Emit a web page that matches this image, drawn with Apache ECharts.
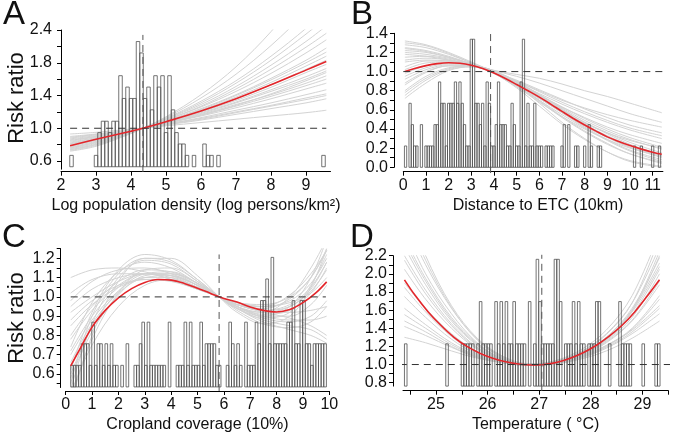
<!DOCTYPE html>
<html><head><meta charset="utf-8">
<script src="https://cdn.jsdelivr.net/npm/echarts@6/dist/echarts.min.js"></script>
<style>html,body{margin:0;padding:0;background:#fff}#c{width:674px;height:434px}</style>
</head><body><div id="c"></div>
<script>
// ---------------- Panel A: Log population density ----------------
const redAx = [2.26, 3, 4, 4.34, 5, 6, 7, 8, 9, 9.58];
const redAy = [0.787, 0.865, 0.964, 1.0, 1.08, 1.21, 1.36, 1.53, 1.71, 1.815];
const greyAx = [2.26, 3, 4, 4.34, 5, 6, 7, 8, 9, 9.58];
const greyA = [
  [0.93, 0.95, 0.99, 1.00, 1.03, 1.07, 1.11, 1.15, 1.19, 1.22],
  [0.90, 0.93, 0.98, 1.00, 1.04, 1.10, 1.17, 1.24, 1.31, 1.36],
  [0.87, 0.91, 0.975, 1.00, 1.05, 1.13, 1.22, 1.31, 1.41, 1.47],
  [0.85, 0.90, 0.972, 1.00, 1.06, 1.15, 1.25, 1.36, 1.48, 1.55],
  [0.83, 0.885, 0.968, 1.00, 1.065, 1.17, 1.29, 1.41, 1.55, 1.64],
  [0.81, 0.87, 0.965, 1.00, 1.07, 1.19, 1.32, 1.47, 1.63, 1.73],
  [0.86, 0.90, 0.97, 1.00, 1.06, 1.16, 1.28, 1.42, 1.58, 1.68],
  [0.79, 0.855, 0.96, 1.00, 1.08, 1.22, 1.38, 1.56, 1.76, 1.88],
  [0.77, 0.84, 0.955, 1.00, 1.09, 1.24, 1.41, 1.61, 1.83, 1.98],
  [0.76, 0.83, 0.953, 1.00, 1.10, 1.26, 1.45, 1.67, 1.92, 2.08],
  [0.75, 0.815, 0.95, 1.00, 1.11, 1.29, 1.51, 1.77, 2.06, 2.25],
  [0.74, 0.80, 0.945, 1.00, 1.12, 1.33, 1.58, 1.88, 2.22, 2.45],
  [0.73, 0.79, 0.94, 1.00, 1.13, 1.37, 1.66, 2.01, 2.42, 2.70],
  [0.72, 0.78, 0.935, 1.00, 1.14, 1.41, 1.75, 2.18, 2.70, 3.05],
  [0.82, 0.88, 0.965, 1.00, 1.07, 1.18, 1.31, 1.45, 1.60, 1.70],
  [0.80, 0.86, 0.96, 1.00, 1.08, 1.21, 1.36, 1.53, 1.72, 1.83],
  [0.88, 0.92, 0.977, 1.00, 1.05, 1.12, 1.20, 1.28, 1.37, 1.42],
  [0.78, 0.85, 0.958, 1.00, 1.085, 1.23, 1.40, 1.59, 1.80, 1.93],
  [0.84, 0.895, 0.97, 1.00, 1.06, 1.16, 1.27, 1.39, 1.52, 1.60],
  [0.76, 0.825, 0.95, 1.00, 1.10, 1.27, 1.48, 1.72, 1.99, 2.16],
  [0.89, 0.925, 0.978, 1.00, 1.045, 1.11, 1.19, 1.27, 1.35, 1.40],
  [0.74, 0.805, 0.948, 1.00, 1.115, 1.31, 1.55, 1.83, 2.15, 2.35],
  [0.81, 0.865, 0.962, 1.00, 1.075, 1.20, 1.34, 1.50, 1.68, 1.78]
];
const histAleft = [2.25, 2.95, 3.05, 3.15, 3.25, 3.35, 3.45, 3.55, 3.65, 3.75, 3.85, 3.95, 4.05, 4.15, 4.25, 4.35, 4.45, 4.55, 4.65, 4.75, 4.85, 4.95, 5.05, 5.15, 5.25, 5.35, 5.45, 5.55, 5.75, 6.05, 6.15, 6.25, 6.45, 9.45];
const histAcount = [1, 1, 3, 4, 4, 3, 4, 4, 8, 6, 7, 6, 6, 11, 10, 6, 7, 5, 8, 7, 8, 3, 8, 5, 3, 2, 2, 1, 1, 2, 1, 1, 1, 1];
const refA = {x: 4.34, y: 1.0};
const xTicksA = [2, 3, 4, 5, 6, 7, 8, 9];
const yTickValsA = [0.6, 1.0, 1.4, 1.8, 2.2];
const yTickLabelsA = ['0.6', '1.0', '1.4', '1.8', '2.4'];

// ---------------- Panel B: Distance to ETC ----------------
const redBx = [0.07, 0.5, 1, 1.5, 2, 2.5, 3, 3.5, 4, 4.5, 5, 5.5, 6, 6.5, 7, 7.5, 8, 8.5, 9, 9.5, 10, 10.5, 11, 11.4];
const redBy = [1.0, 1.032, 1.062, 1.083, 1.092, 1.087, 1.066, 1.032, 0.985, 0.928, 0.865, 0.80, 0.733, 0.66, 0.584, 0.51, 0.442, 0.378, 0.318, 0.27, 0.227, 0.19, 0.158, 0.136];
const greyBx = [0.07, 1, 2, 3, 3.85, 5, 6, 7, 8, 9, 10, 11.4];
const greyB = [
  [1.32, 1.28, 1.20, 1.10, 1.01, 0.86, 0.72, 0.58, 0.45, 0.33, 0.23, 0.12],
  [1.28, 1.25, 1.18, 1.09, 1.00, 0.88, 0.77, 0.66, 0.56, 0.47, 0.39, 0.30],
  [1.22, 1.20, 1.15, 1.08, 1.01, 0.90, 0.80, 0.70, 0.62, 0.55, 0.49, 0.42],
  [1.18, 1.16, 1.12, 1.07, 1.02, 0.97, 0.93, 0.87, 0.80, 0.74, 0.67, 0.57],
  [1.20, 1.18, 1.14, 1.08, 1.02, 0.95, 0.88, 0.80, 0.72, 0.64, 0.56, 0.47],
  [1.12, 1.14, 1.12, 1.06, 1.00, 0.86, 0.72, 0.58, 0.46, 0.36, 0.28, 0.20],
  [1.05, 1.11, 1.11, 1.07, 1.01, 0.85, 0.69, 0.52, 0.37, 0.24, 0.14, 0.05],
  [0.98, 1.06, 1.09, 1.07, 1.01, 0.87, 0.72, 0.57, 0.43, 0.31, 0.21, 0.12],
  [0.92, 1.02, 1.07, 1.06, 1.01, 0.89, 0.76, 0.63, 0.51, 0.40, 0.31, 0.21],
  [0.86, 0.99, 1.06, 1.06, 1.01, 0.86, 0.70, 0.53, 0.38, 0.25, 0.14, 0.04],
  [0.80, 0.95, 1.04, 1.06, 1.02, 0.88, 0.73, 0.57, 0.42, 0.29, 0.18, 0.08],
  [0.75, 0.91, 1.02, 1.05, 1.02, 0.90, 0.76, 0.61, 0.47, 0.35, 0.24, 0.13],
  [0.72, 0.88, 1.01, 1.05, 1.02, 0.86, 0.67, 0.47, 0.30, 0.16, 0.06, 0.00],
  [1.25, 1.22, 1.16, 1.08, 1.00, 0.84, 0.68, 0.53, 0.40, 0.29, 0.20, 0.11],
  [1.02, 1.09, 1.10, 1.07, 1.01, 0.90, 0.79, 0.68, 0.58, 0.49, 0.41, 0.33],
  [0.95, 1.04, 1.08, 1.06, 1.00, 0.83, 0.64, 0.45, 0.29, 0.16, 0.07, 0.01],
  [1.15, 1.16, 1.13, 1.07, 1.00, 0.87, 0.75, 0.63, 0.52, 0.42, 0.34, 0.25],
  [1.30, 1.27, 1.19, 1.09, 1.00, 0.85, 0.70, 0.55, 0.41, 0.28, 0.17, 0.06],
  [1.10, 1.12, 1.11, 1.07, 1.01, 0.88, 0.75, 0.62, 0.49, 0.38, 0.29, 0.19],
  [0.88, 1.00, 1.06, 1.06, 1.01, 0.88, 0.74, 0.60, 0.47, 0.36, 0.26, 0.15],
  [0.78, 0.93, 1.03, 1.06, 1.02, 0.89, 0.75, 0.60, 0.45, 0.32, 0.21, 0.10],
  [1.24, 1.21, 1.15, 1.08, 1.01, 0.91, 0.81, 0.71, 0.61, 0.52, 0.44, 0.36]
];
const histBstart = 0.05, histBwidth = 0.1;
const histBcount = [1,0,3,2,1,1,0,2,0,1, 1,1,1,2,2,4,3,3,1,3, 3,3,4,3,4,3,2,1,1,6, 6,3,3,2,3,1,4,3,1,1,
  2,4,2,2,2,1,1,3,2,1, 1,4,6,1,3,1,1,3,1,1, 1,0,1,1,1,1,0,0,0,1, 2,0,2,0,0,1,1,0,0,1, 0,2,1,0,0,1,1,0,0,0,
  0,0,0,0,0,0,0,0,0,0, 0,1,0,0,1,0,0,0,0,1, 0,0,1,0];
const refB = {x: 3.85, y: 1.0};
const xTicksB = [0, 1, 2, 3, 4, 5, 6, 7, 8, 9, 10, 11];
const yTickValsB = [0, 0.2, 0.4, 0.6, 0.8, 1.0, 1.2, 1.4];

// ---------------- Panel C: Cropland coverage ----------------
const redCx = [0.19, 0.5, 1, 1.5, 2, 2.5, 3, 3.5, 4, 4.5, 5, 5.5, 6, 6.5, 7, 7.5, 8, 8.5, 9, 9.5, 9.9];
const redCy = [0.642, 0.72, 0.843, 0.93, 0.995, 1.043, 1.075, 1.09, 1.087, 1.07, 1.045, 1.018, 0.992, 0.973, 0.948, 0.93, 0.922, 0.934, 0.97, 1.022, 1.078];
const greyCx = [0.19, 1, 2, 3, 4, 5, 5.82, 6.5, 7.5, 8.5, 9.3, 9.9];
const greyC = [
  [0.50, 0.75, 0.95, 1.06, 1.09, 1.05, 1.00, 0.96, 0.93, 0.96, 1.05, 1.18],
  [0.58, 0.82, 1.01, 1.11, 1.12, 1.07, 1.00, 0.95, 0.90, 0.90, 0.96, 1.06],
  [0.70, 0.88, 1.03, 1.10, 1.10, 1.05, 1.00, 0.96, 0.93, 0.95, 1.03, 1.14],
  [0.78, 0.93, 1.06, 1.12, 1.11, 1.06, 1.00, 0.95, 0.91, 0.93, 1.02, 1.15],
  [0.88, 0.98, 1.06, 1.09, 1.08, 1.04, 1.00, 0.97, 0.95, 0.98, 1.07, 1.20],
  [1.10, 1.14, 1.15, 1.13, 1.09, 1.04, 1.00, 0.97, 0.95, 0.97, 1.02, 1.10],
  [0.98, 1.08, 1.14, 1.15, 1.12, 1.06, 1.00, 0.95, 0.90, 0.88, 0.88, 0.90],
  [0.55, 0.90, 1.12, 1.20, 1.18, 1.09, 1.00, 0.93, 0.86, 0.84, 0.87, 0.95],
  [0.45, 0.80, 1.08, 1.20, 1.20, 1.11, 1.00, 0.92, 0.86, 0.90, 1.05, 1.25],
  [0.62, 0.92, 1.14, 1.22, 1.19, 1.09, 1.00, 0.94, 0.92, 1.00, 1.15, 1.30],
  [0.95, 1.04, 1.10, 1.12, 1.10, 1.05, 1.00, 0.96, 0.92, 0.89, 0.85, 0.80],
  [0.85, 0.96, 1.05, 1.09, 1.09, 1.05, 1.00, 0.96, 0.93, 0.92, 0.93, 0.95],
  [0.66, 0.86, 1.02, 1.10, 1.11, 1.06, 1.00, 0.96, 0.95, 1.01, 1.12, 1.24],
  [0.74, 0.97, 1.13, 1.18, 1.15, 1.07, 1.00, 0.94, 0.88, 0.85, 0.83, 0.78],
  [0.52, 0.86, 1.10, 1.19, 1.17, 1.08, 1.00, 0.94, 0.89, 0.92, 1.06, 1.22],
  [0.92, 1.00, 1.08, 1.12, 1.11, 1.06, 1.00, 0.95, 0.92, 0.95, 1.04, 1.18],
  [0.60, 0.84, 1.03, 1.12, 1.13, 1.07, 1.00, 0.95, 0.89, 0.87, 0.90, 0.98],
  [0.80, 0.95, 1.08, 1.14, 1.13, 1.07, 1.00, 0.94, 0.87, 0.83, 0.80, 0.76],
  [0.72, 0.90, 1.05, 1.12, 1.12, 1.06, 1.00, 0.96, 0.94, 0.99, 1.10, 1.24],
  [1.02, 1.09, 1.12, 1.12, 1.09, 1.04, 1.00, 0.97, 0.96, 1.00, 1.10, 1.25],
  [0.48, 0.78, 1.02, 1.14, 1.15, 1.08, 1.00, 0.94, 0.90, 0.95, 1.10, 1.30]
];
const histCstart = 0.19, histCwidth = 0.1;
const histCcount = [1,1,1,1,2,2,2,1,3,1, 2,2,1,2,1,2,1,1,0,1, 0,2,0,0,1,1,2,3,1,3,
  1,1,1,1,1,1,0,3,0,0, 1,1,1,3,1,3,1,1,1,3, 1,2,2,2,2,1,1,0,0,1, 3,2,1,2,1,0,3,1,1,1,
  3,2,4,4,5,2,6,2,2,2, 2,2,3,3,4,2,2,4,4,2, 2,1,2,2,2,2,2];
const refC = {x: 5.82, y: 1.0};
const xTicksC = [0, 1, 2, 3, 4, 5, 6, 7, 8, 9, 10];
const yTickValsC = [0.6, 0.7, 0.8, 0.9, 1.0, 1.1, 1.2];

// ---------------- Panel D: Temperature ----------------
const redDx = [24.39, 24.6, 24.85, 25.1, 25.35, 25.6, 25.85, 26.1, 26.35, 26.6, 26.85, 27.1, 27.35, 27.6, 27.85, 28.1, 28.35, 28.6, 28.85, 29.1, 29.33];
const redDy = [1.934, 1.76, 1.58, 1.43, 1.30, 1.20, 1.125, 1.07, 1.03, 1.005, 0.995, 1.0, 1.025, 1.07, 1.13, 1.21, 1.31, 1.43, 1.58, 1.76, 1.934];
const greyDx = [24.39, 24.8, 25.3, 25.8, 26.3, 26.8, 27.3, 27.8, 28.3, 28.8, 29.33];
const greyD = [
  [2.60, 2.10, 1.62, 1.28, 1.08, 1.00, 1.02, 1.09, 1.21, 1.40, 1.76],
  [2.40, 1.95, 1.52, 1.23, 1.06, 1.00, 1.02, 1.10, 1.25, 1.49, 1.92],
  [2.20, 1.82, 1.45, 1.19, 1.05, 0.99, 1.03, 1.12, 1.30, 1.60, 2.12],
  [1.75, 1.52, 1.28, 1.11, 1.02, 0.99, 1.03, 1.14, 1.34, 1.68, 2.30],
  [1.55, 1.40, 1.22, 1.09, 1.02, 1.00, 1.04, 1.16, 1.38, 1.76, 2.45],
  [1.30, 1.24, 1.15, 1.07, 1.02, 1.00, 1.03, 1.11, 1.28, 1.60, 2.25],
  [2.05, 1.72, 1.40, 1.17, 1.04, 0.99, 1.02, 1.08, 1.19, 1.36, 1.62],
  [1.90, 1.62, 1.34, 1.14, 1.03, 0.99, 1.02, 1.09, 1.21, 1.38, 1.65],
  [2.80, 2.20, 1.65, 1.29, 1.09, 1.01, 1.01, 1.06, 1.15, 1.29, 1.48],
  [2.30, 1.88, 1.48, 1.21, 1.05, 0.99, 1.01, 1.07, 1.18, 1.34, 1.56],
  [1.62, 1.44, 1.24, 1.10, 1.02, 0.99, 1.03, 1.12, 1.29, 1.58, 2.08],
  [2.50, 2.00, 1.56, 1.24, 1.06, 0.99, 1.01, 1.09, 1.24, 1.48, 1.88],
  [1.42, 1.32, 1.19, 1.08, 1.02, 1.00, 1.04, 1.13, 1.33, 1.68, 2.40],
  [2.70, 2.15, 1.63, 1.27, 1.07, 0.99, 1.01, 1.10, 1.28, 1.59, 2.20],
  [1.85, 1.58, 1.31, 1.12, 1.03, 1.00, 1.02, 1.10, 1.26, 1.52, 2.00],
  [2.15, 1.78, 1.43, 1.18, 1.05, 1.00, 1.02, 1.08, 1.20, 1.39, 1.72],
  [1.48, 1.36, 1.20, 1.08, 1.02, 1.00, 1.03, 1.12, 1.30, 1.62, 2.18],
  [2.35, 1.92, 1.50, 1.22, 1.06, 1.00, 1.02, 1.11, 1.27, 1.55, 2.05]
];
const histDstart = 24.39, histDwidth = 0.05;
const histDcount = [1,0,0,0,0,0,0,0,0,0, 0,0,0,0,0,0,1,0,0,0, 0,0,1,1,1,1,1,0,1,2, 1,1,1,1,0,2,1,2,1,2,
  1,1,2,1,1,1,1,0,2,0, 1,3,2,1,1,1,1,1,3,3, 2,0,1,1,1,2,1,2,1,1, 0,1,1,1,2,2,0,0,0,1,
  0,0,0,2,1,1,1,1,0,0, 0,0,1,0,0,0,0,1,1];
const refD = {x: 27.05, y: 1.0};
const xTickValsD = [24.5, 25, 25.5, 26, 26.5, 27, 27.5, 28, 28.5, 29, 29.5];
const xLabelValsD = [25, 26, 27, 28, 29];
const yTickValsD = [0.8, 1.0, 1.2, 1.4, 1.6, 1.8, 2.0, 2.2];

// ---------------- Layout / styling ----------------
const FONT = "'Liberation Sans', Arial, Helvetica, sans-serif";
const GREY = '#d3d3d3', RED = '#e3262b', BAR = '#505050', DASH = '#333';
const TICKFS = 16;

function range(a, b, step) { const r = []; for (let v = a; v <= b + 1e-9; v += step) r.push(Math.round(v * 1000) / 1000); return r; }
function lefts(start, w, n) { const r = []; for (let i = 0; i < n; i++) r.push(Math.round((start + i * w) * 1000) / 1000); return r; }

const panels = [
  { grid: {left: 61, top: 30, width: 269.5, height: 139.2},
    x: {min: 2, max: 9.7, ticks: xTicksA, labels: xTicksA, offset: 2.5},
    y: {min: 0.5, max: 2.2, ticks: range(0.6, 2.2, 0.2), labels: yTickValsA, offset: 0, margin: 9,
        fmt: v => { const i = yTickValsA.findIndex(t => Math.abs(t - v) < 1e-6); return i >= 0 ? yTickLabelsA[i] : ''; }},
    cnt: {base: 0.53, unit: 0.139},
    grey: [greyAx, greyA], red: [redAx, redAy],
    hist: {lefts: histAleft, counts: histAcount, w: 0.1},
    hline: [2.26, 9.58], vline: [0.466, 2.14], ref: refA },
  { grid: {left: 403.3, top: 33.3, width: 259.6, height: 134},
    x: {min: 0, max: 11.45, ticks: xTicksB, labels: xTicksB, offset: 4.4},
    y: {min: 0, max: 1.4, ticks: range(0, 1.4, 0.1), labels: yTickValsB, offset: 9.3, margin: 6, fmt: v => v.toFixed(1)},
    cnt: {base: 0, unit: 0.223},
    grey: [greyBx, greyB], red: [redBx, redBy],
    hist: {lefts: lefts(histBstart, histBwidth, histBcount.length), counts: histBcount, w: histBwidth},
    hline: [0, 11.85], vline: [-0.06, 1.4], ref: refB },
  { grid: {left: 65.7, top: 248.7, width: 263.6, height: 138.8},
    x: {min: 0, max: 10, ticks: xTicksC, labels: xTicksC, offset: 3.5},
    y: {min: 0.53, max: 1.25, ticks: range(0.55, 1.25, 0.05), labels: yTickValsC, offset: 5, margin: 6, fmt: v => v.toFixed(1)},
    cnt: {base: 0.533, unit: 0.112},
    grey: [greyCx, greyC], red: [redCx, redCy],
    hist: {lefts: lefts(histCstart, histCwidth, histCcount.length), counts: histCcount, w: histCwidth},
    hline: [0.19, 9.87], vline: [0.512, 1.22], ref: refC },
  { grid: {left: 403, top: 255.7, width: 265.3, height: 130.4},
    x: {min: 24.362, max: 29.5, ticks: xTickValsD, labels: xLabelValsD, offset: 4.6},
    y: {min: 0.762, max: 2.2, ticks: range(0.8, 2.2, 0.1), labels: yTickValsD, offset: 10, margin: 6, fmt: v => v.toFixed(1)},
    cnt: {base: 0.762, unit: 0.466},
    grey: [greyDx, greyD], red: [redDx, redDy],
    hist: {lefts: lefts(histDstart, histDwidth, histDcount.length), counts: histDcount, w: histDwidth},
    hline: [24.3, 29.58], vline: [0.71, 2.21], ref: refD }
];

const grid = [], xAxis = [], yAxis = [], series = [];
panels.forEach((p, gi) => {
  grid.push(Object.assign({containLabel: false}, p.grid));
  xAxis.push({
    type: 'value', gridIndex: gi, min: p.x.min, max: p.x.max, offset: p.x.offset,
    splitLine: {show: false},
    axisLine: {show: true, onZero: false, lineStyle: {color: '#000', width: 1}},
    axisTick: {show: true, length: 4, customValues: p.x.ticks, lineStyle: {color: '#000'}},
    axisLabel: {customValues: p.x.labels, margin: 6, fontSize: TICKFS, color: '#111', fontFamily: FONT, formatter: v => String(v)}
  });
  yAxis.push({
    type: 'value', gridIndex: gi, min: p.y.min, max: p.y.max, offset: p.y.offset,
    splitLine: {show: false},
    axisLine: {show: true, onZero: false, lineStyle: {color: '#000', width: 1}},
    axisTick: {show: true, length: 4, customValues: p.y.ticks, lineStyle: {color: '#000'}},
    axisLabel: {customValues: p.y.labels, margin: p.y.margin, fontSize: TICKFS, color: '#111', fontFamily: FONT, formatter: p.y.fmt}
  });
  // hidden frequency axis for the histogram
  yAxis.push({
    type: 'value', gridIndex: gi, show: false,
    min: (p.y.min - p.cnt.base) / p.cnt.unit, max: (p.y.max - p.cnt.base) / p.cnt.unit
  });
  const yi = gi * 2;
  p.grey[1].forEach(ys => {
    series.push({type: 'line', xAxisIndex: gi, yAxisIndex: yi, data: p.grey[0].map((x, i) => [x, ys[i]]),
      smooth: 0.35, symbol: 'none', silent: true, z: 1, lineStyle: {color: GREY, width: 1}});
  });
  const hw = p.hist.w;
  series.push({
    type: 'custom', xAxisIndex: gi, yAxisIndex: yi + 1, z: 2, silent: true,
    data: p.hist.lefts.map((x, i) => [x, p.hist.counts[i]]).filter(d => d[1] > 0),
    encode: {x: 0, y: 1},
    renderItem: (params, api) => {
      const x0 = api.value(0), n = api.value(1);
      const a = api.coord([x0, 0]), b = api.coord([x0 + hw, n]);
      return {type: 'rect', shape: {x: a[0], y: b[1], width: b[0] - a[0], height: a[1] - b[1]},
        style: {fill: 'none', stroke: BAR, lineWidth: 0.8}};
    }
  });
  series.push({type: 'line', xAxisIndex: gi, yAxisIndex: yi, data: p.red[0].map((x, i) => [x, p.red[1][i]]),
    smooth: 0.35, symbol: 'none', silent: true, z: 4, lineStyle: {color: RED, width: 1.6}});
  series.push({type: 'line', xAxisIndex: gi, yAxisIndex: yi, clip: false, symbol: 'none', silent: true, z: 5,
    data: [[p.hline[0], p.ref.y], [p.hline[1], p.ref.y]], lineStyle: {color: DASH, width: 1, type: [7, 5]}});
  series.push({type: 'line', xAxisIndex: gi, yAxisIndex: yi, clip: false, symbol: 'none', silent: true, z: 5,
    data: [[p.ref.x, p.vline[0]], [p.ref.x, p.vline[1]]], lineStyle: {color: '#555', width: 1, type: [7, 5]}});
});

function txt(text, x, y, size, rot) {
  return {type: 'text', x: x, y: y, rotation: rot || 0, silent: true,
    style: {text: text, fill: '#111', font: size + 'px ' + FONT, textAlign: 'center', textVerticalAlign: 'middle'}};
}
const graphic = [
  txt('A', 14, 15, 33), txt('B', 362, 15, 33), txt('C', 14, 238, 33), txt('D', 362, 238, 33),
  txt('Risk ratio', 17, 98, 22, Math.PI / 2), txt('Risk ratio', 17, 318, 22, Math.PI / 2),
  txt('Log population density (log persons/km²)', 196, 206, 16),
  txt('Distance to ETC (10km)', 538, 206, 16),
  txt('Cropland coverage (10%)', 197.5, 425, 16),
  txt('Temperature ( °C)', 535.6, 425, 16)
];

const chart = echarts.init(document.getElementById('c'), null, {renderer: 'canvas'});
chart.setOption({animation: false, backgroundColor: '#fff', textStyle: {fontFamily: FONT},
  grid, xAxis, yAxis, series, graphic});
</script></body></html>
